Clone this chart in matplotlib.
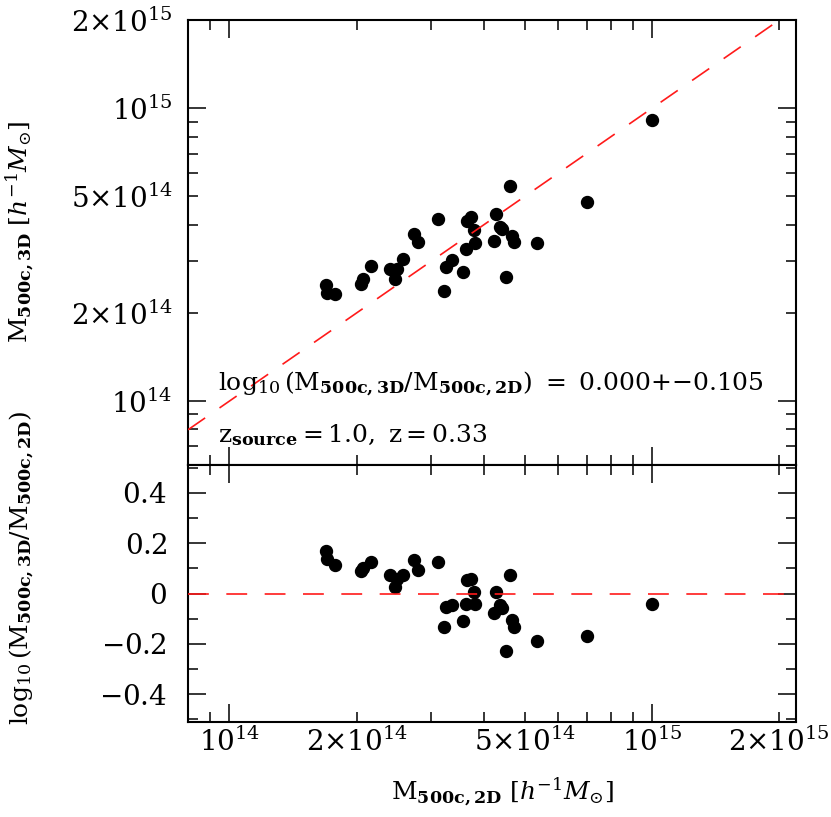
import numpy as np
import matplotlib
matplotlib.use('Agg')
import matplotlib.pyplot as plt
from matplotlib.ticker import FixedLocator, FuncFormatter, NullFormatter

plt.rcParams['mathtext.fontset'] = 'dejavuserif'
plt.rcParams['font.family'] = 'serif'
plt.rcParams['font.serif'] = ['DejaVu Serif']

# masses in units of 1e14 h^-1 Msun
m2d = [1.69, 1.70, 1.78, 2.05, 2.07, 2.16, 2.40, 2.47, 2.49, 2.58, 2.73, 2.80,
       3.12, 3.21, 3.25, 3.36, 3.56, 3.62, 3.64, 3.73, 3.78, 3.81, 4.22, 4.27,
       4.37, 4.41, 4.50, 4.60, 4.66, 4.72, 5.35, 7.02, 10.0]
m3d = [2.49, 2.34, 2.32, 2.52, 2.62, 2.89, 2.83, 2.62, 2.83, 3.05, 3.72, 3.48,
       4.17, 2.37, 2.87, 3.03, 2.76, 3.30, 4.13, 4.26, 3.83, 3.47, 3.53, 4.34,
       3.93, 3.86, 2.66, 5.43, 3.66, 3.49, 3.47, 4.78, 9.10]
unit = 1e14
fit_text = r"$\log_{10}(\mathrm{M}_{\mathbf{500c,3D}}/\mathrm{M}_{\mathbf{500c,2D}})\ =\ 0.000{+}{-}0.105$"
z_text = r"$\mathrm{z}_{\mathbf{source}}\mathrm{=1.0,\ z=0.33}$"

x = np.array(m2d) * unit
y = np.array(m3d) * unit
resid = np.log10(y / x)

fig = plt.figure(figsize=(8.31, 8.17), dpi=100)
L, W = 188/831, (796-188)/831
ax1 = fig.add_axes([L, 1-465/817, W, (465-20)/817])
ax2 = fig.add_axes([L, 1-722/817, W, (722-465)/817])

xlim = (7.98e13, 2.19e15)
ylim = (6.05e13, 2.0e15)
fs = 20
fs_lab = 18
red = '#ff1a1a'

def logfmt(v, pos=None):
    e = int(np.floor(np.log10(v) + 1e-9))
    m = int(round(v / 10**e))
    if m == 1:
        return r"$10^{%d}$" % e
    if m in (2, 5):
        return r"$%d{\times}10^{%d}$" % (m, e)
    return ""

def setup_logaxis(axis):
    axis.set_major_locator(FixedLocator([1e13, 1e14, 1e15, 1e16]))
    minors = [m * 10**e for e in (13, 14, 15) for m in range(2, 10)]
    axis.set_minor_locator(FixedLocator(minors))
    axis.set_major_formatter(FuncFormatter(logfmt))
    axis.set_minor_formatter(FuncFormatter(logfmt))

# ---- top panel
ax1.set_xscale('log'); ax1.set_yscale('log')
ax1.set_xlim(*xlim); ax1.set_ylim(*ylim)
ax1.plot(x, y, 'o', color='black', markersize=8.6, zorder=2)
lx = np.array(ax1.get_xlim())
ax1.plot(lx, lx, color=red, lw=1.2, dashes=(12.5, 10.5), zorder=3)
setup_logaxis(ax1.xaxis)
setup_logaxis(ax1.yaxis)
ax1.xaxis.set_major_formatter(NullFormatter())
ax1.xaxis.set_minor_formatter(NullFormatter())
ax1.text((218-188)/608, 1-(390-20)/445, fit_text, transform=ax1.transAxes,
         fontsize=fs_lab, ha='left', va='baseline')
ax1.text((218-188)/608, 1-(442-20)/445, z_text, transform=ax1.transAxes,
         fontsize=fs_lab, ha='left', va='baseline')

# ---- bottom panel
ax2.set_xscale('log')
ax2.set_xlim(*xlim); ax2.set_ylim(-0.51, 0.51)
ax2.plot(x, resid, 'o', color='black', markersize=8.6, zorder=2)
ax2.axhline(0, color=red, lw=1.2, dashes=(12.5, 10.5), zorder=3)
setup_logaxis(ax2.xaxis)
ax2.yaxis.set_major_locator(FixedLocator([-0.4, -0.2, 0.0, 0.2, 0.4]))
ax2.yaxis.set_minor_locator(FixedLocator([-0.5, -0.3, -0.1, 0.1, 0.3, 0.5]))
def linfmt(v, pos=None):
    if abs(v) < 1e-9:
        return r"$0$"
    return r"$%.1f$" % v
ax2.yaxis.set_major_formatter(FuncFormatter(linfmt))

for ax in (ax1, ax2):
    ax.tick_params(which='both', direction='in', top=True, right=True,
                   labelsize=fs, width=1.1)
    ax.tick_params(which='major', length=13)
    ax.tick_params(which='minor', length=7)
    ax.tick_params(axis='x', which='both', pad=4)
    for s in ax.spines.values():
        s.set_linewidth(1.5)
ax1.tick_params(axis='y', which='both', pad=11)
ax2.tick_params(axis='y', which='both', pad=15)

fig.text(20/831, 1-232/817, r"$\mathrm{M}_{\mathbf{500c,3D}}\ [h^{-1}M_{\odot}]$",
         rotation=90, ha='center', va='center', fontsize=fs_lab)
fig.text(22/831, 1-568/817,
         r"$\log_{10}(\mathrm{M}_{\mathbf{500c,3D}}/\mathrm{M}_{\mathbf{500c,2D}})$",
         rotation=90, ha='center', va='center', fontsize=fs_lab)
fig.text(502/831, 1-799/817, r"$\mathrm{M}_{\mathbf{500c,2D}}\ [h^{-1}M_{\odot}]$",
         ha='center', va='baseline', fontsize=fs_lab)

fig.savefig('out.png', dpi=100)
